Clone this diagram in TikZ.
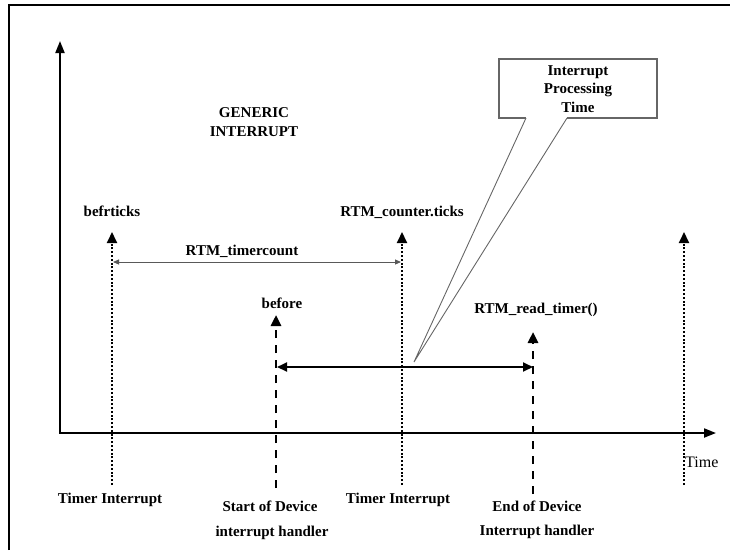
\documentclass[tikz,border=0pt]{standalone}
\usepackage{fontspec}
\setmainfont{Liberation Serif}
\usetikzlibrary{arrows.meta}

\begin{document}
\begin{tikzpicture}[x=1pt,y=-1pt,
  lbl/.style={font=\fontsize{15}{18.5}\selectfont\bfseries, inner sep=0pt, align=center},
  axis/.style={line width=2pt, line join=miter,
    {Triangle[length=12pt,width=9pt]}-{Triangle[length=12pt,width=9pt]}},
  tickline/.style={line width=2pt, dash pattern=on 2pt off 1.8pt,
    -{Triangle[length=11pt,width=10pt]}},
  handler/.style={line width=2.6pt, dash pattern=on 8pt off 7pt,
    -{Triangle[length=11pt,width=10pt]}},
  span/.style={line width=1.8pt,
    {Triangle[length=10pt,width=9pt]}-{Triangle[length=10pt,width=9pt]}},
  count/.style={line width=0.9pt, draw=black!65,
    {Triangle[length=6pt,width=5pt]}-{Triangle[length=6pt,width=5pt]}},
  calloutbox/.style={draw=black!60, line width=1.4pt, line join=miter},
  callouttail/.style={draw=black!60, line width=0.9pt},
]
\useasboundingbox (0,0) rectangle (730,550);

% outer frame
\draw[line width=2pt] (9,550) -- (9,5) -- (730,5);

% axes
\coordinate (ytop) at (60,41);
\coordinate (origin) at (60,433);
\coordinate (xend) at (716,433);
\draw[axis] (ytop) -- (origin) -- (xend);
\node[lbl, font=\fontsize{16}{18.5}\selectfont, anchor=west] (time) at (685,462) {Time};

% timer interrupt ticks (dotted)
\coordinate (t1b) at (112,485); \coordinate (t1t) at (112,232);
\coordinate (t2b) at (402,485); \coordinate (t2t) at (402,232);
\coordinate (t3b) at (684,485); \coordinate (t3t) at (684,232);
\draw[tickline] (t1b) -- (t1t);
\draw[tickline] (t2b) -- (t2t);
\draw[tickline] (t3b) -- (t3t);

% device handler start / end (dashed)
\coordinate (h1b) at (276,488); \coordinate (h1t) at (276,315);
\coordinate (h2b) at (533,494); \coordinate (h2t) at (533,332);
\draw[handler] (h1b) -- (h1t);
\draw[handler] (h2b) -- (h2t);

% RTM_timercount span
\coordinate (c1) at (113,262);
\coordinate (c2) at (401,262);
\draw[count] (c1) -- (c2);
\node[lbl] (tc) at (242,251) {RTM\_timercount};

% processing span
\coordinate (s1) at (277,367);
\coordinate (s2) at (533,367);
\draw[span] (s1) -- (s2);

% labels at top of markers
\node[lbl] (befr) at (112,211) {befrticks};
\node[lbl] (cnt) at (402,212) {RTM\_counter.ticks};
\node[lbl] (bef) at (282,303) {before};
\node[lbl] (rd) at (536,310) {RTM\_read\_timer()};
\node[lbl] (gen) at (254,122) {GENERIC\\INTERRUPT};

% labels below the axis
\node[lbl] (ti1) at (110,500) {Timer Interrupt};
\node[lbl] (ti2) at (398,500) {Timer Interrupt};
\node[lbl] (sd1) at (270,506) {Start of Device};
\node[lbl] (sd2) at (272,533) {interrupt handler};
\node[lbl] (ed1) at (537,506) {End of Device};
\node[lbl] (ed2) at (537,532) {Interrupt handler};

% callout
\node[lbl] (ipt) at (578,89) {Interrupt\\Processing\\Time};
\coordinate (tip) at (414,362);
\draw[calloutbox] (526,118) -- (499,118) -- (499,59) -- (657,59) -- (657,118) -- (567,118);
\draw[callouttail] (526,118) -- (tip) -- (567,118);
\end{tikzpicture}
\end{document}
